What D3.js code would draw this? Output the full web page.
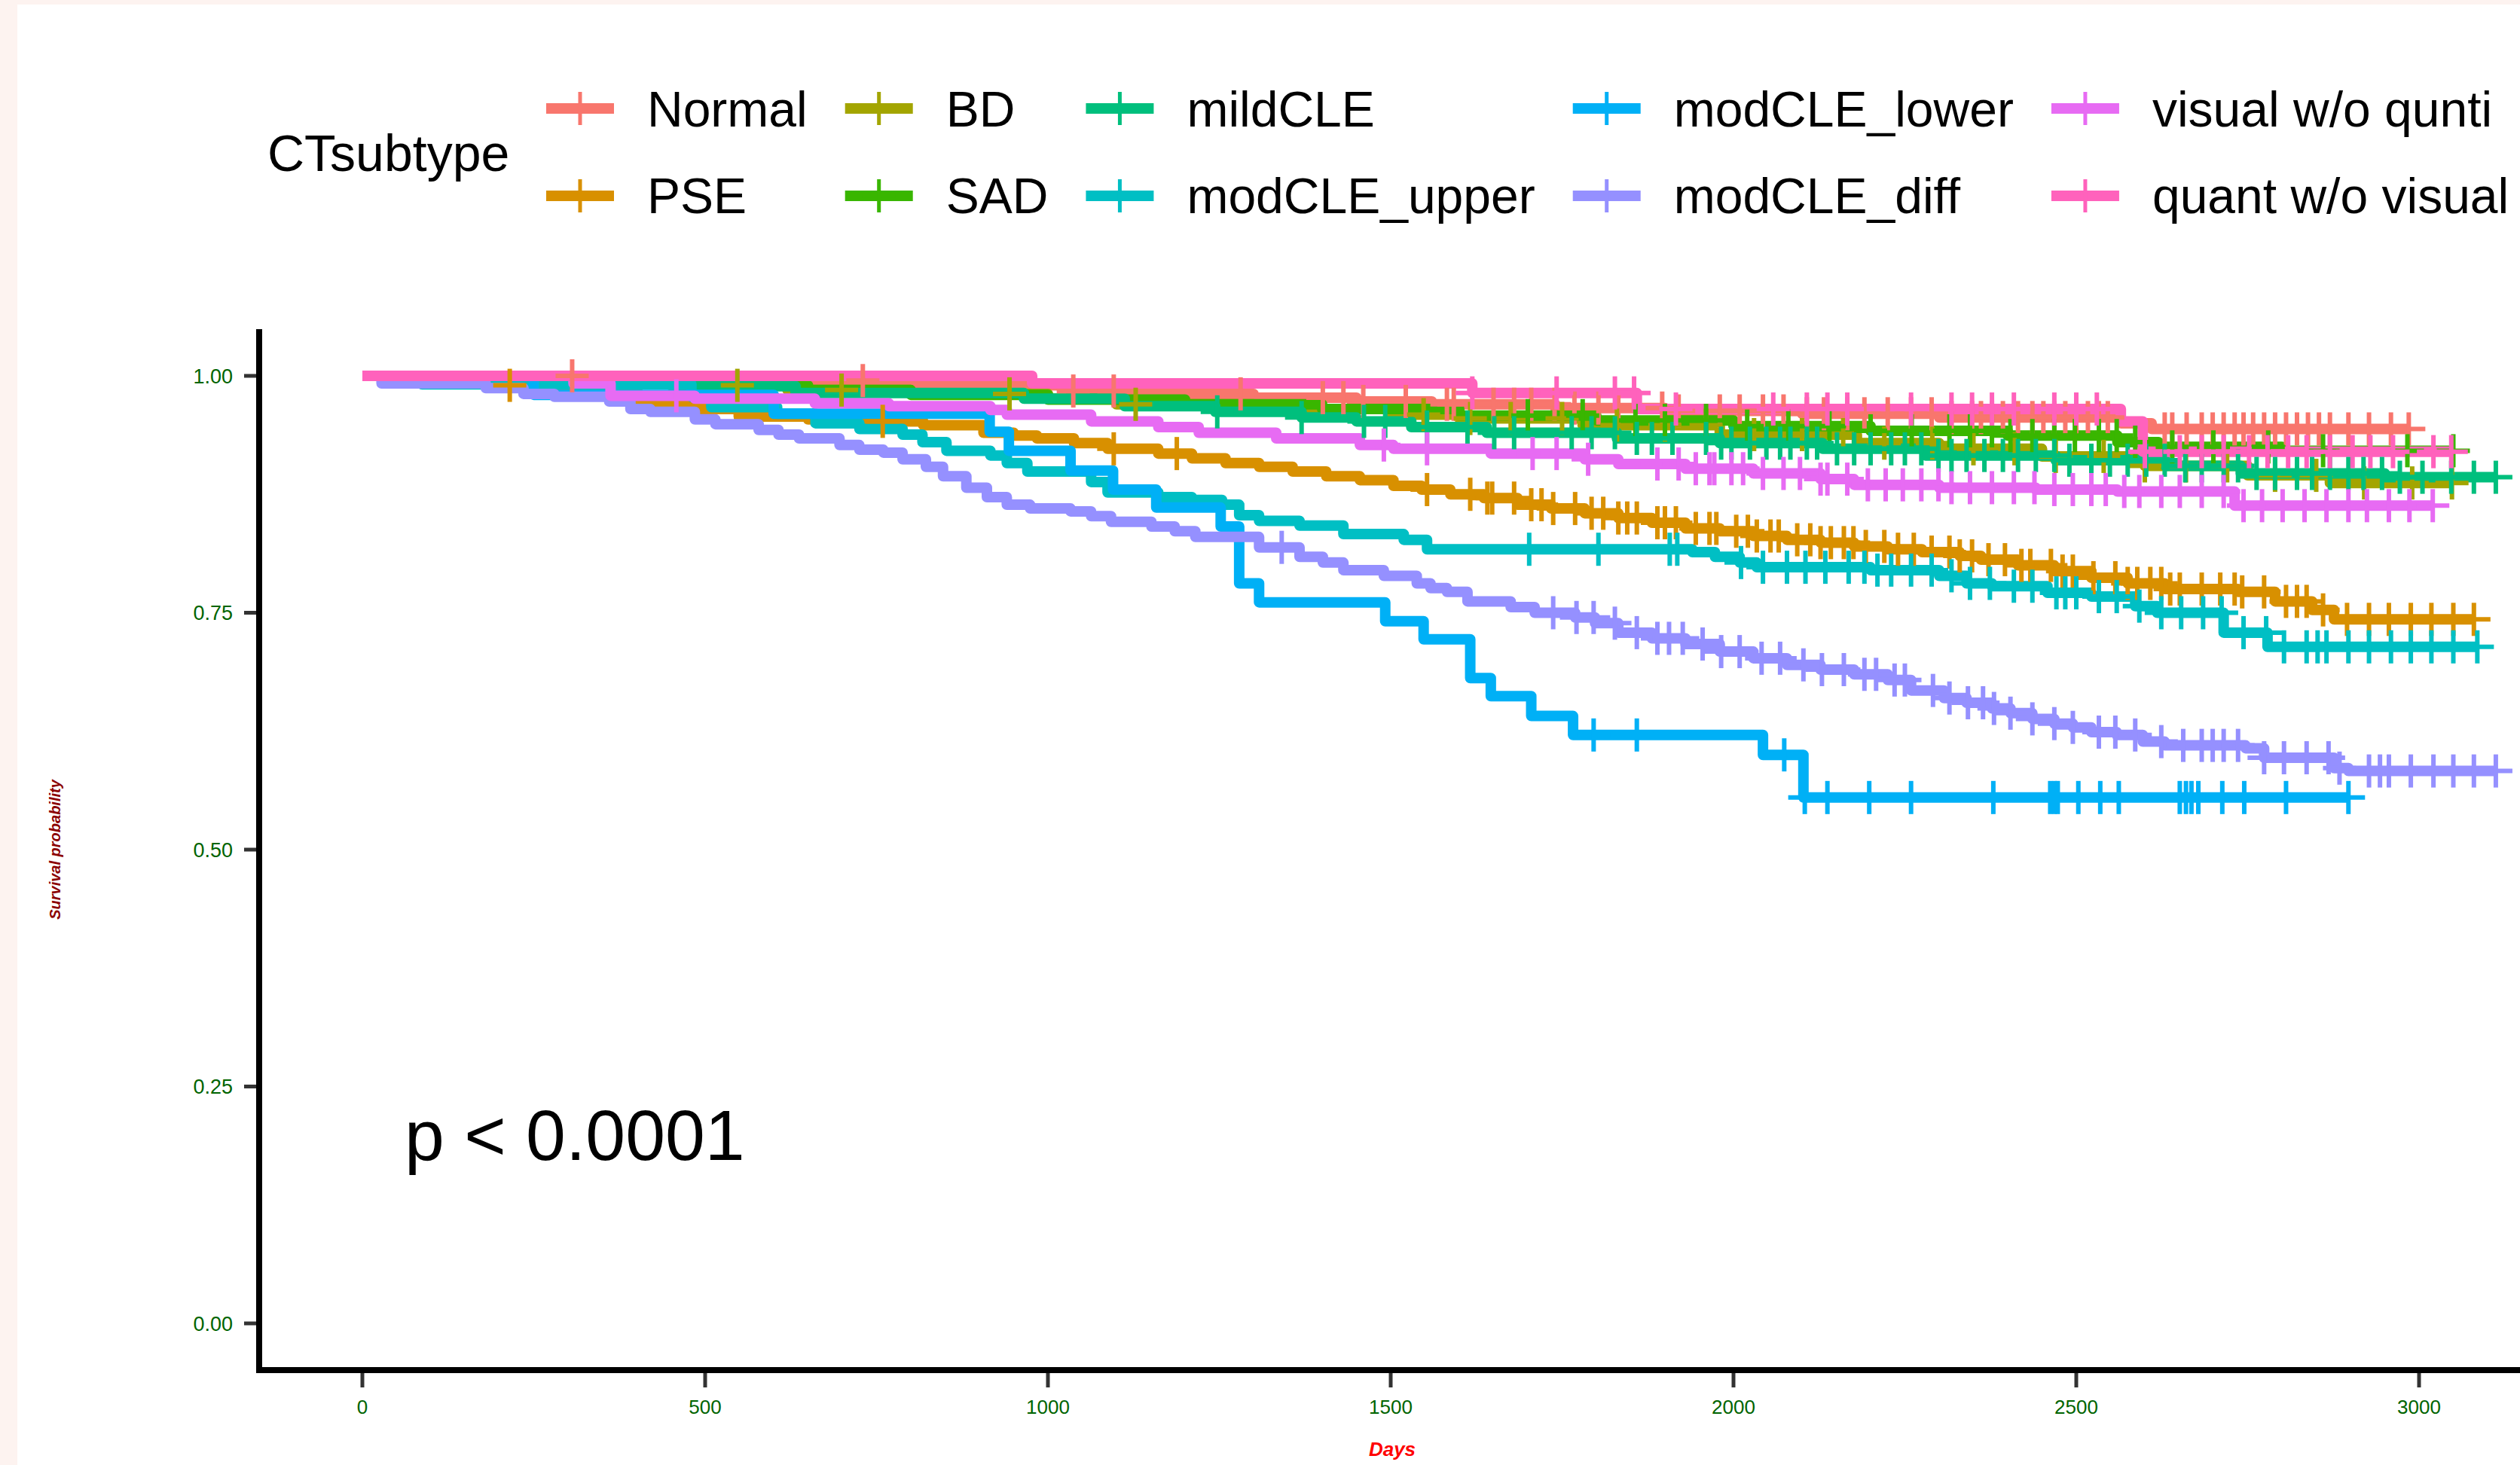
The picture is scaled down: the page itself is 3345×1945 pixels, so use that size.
<!DOCTYPE html>
<html>
<head>
<meta charset="utf-8">
<script src="https://cdn.jsdelivr.net/npm/d3@7"></script>
<style>
  html, body { margin: 0; padding: 0; background: #fff; }
  svg { display: block; }
  text { font-family: "Liberation Sans", Arial, Helvetica, sans-serif; }
</style>
</head>
<body>
<svg id="chart" width="3345" height="1945"></svg>
<script>
// ---- data ----
var groups = ["Normal", "PSE", "BD", "SAD", "mildCLE", "modCLE_upper",
  "modCLE_lower", "modCLE_diff", "visual w/o qunti", "quant w/o visual"];
var colors = ["#F8766D", "#D89000", "#A3A500", "#39B600", "#00BF7D",
  "#00BFC4", "#00B0F6", "#9590FF", "#E76BF3", "#FF62BC"];

var xTicks = [0, 500, 1000, 1500, 2000, 2500, 3000];
var yTicks = [0, 0.25, 0.5, 0.75, 1];

// [days, survival] steps, last pair = end of follow-up
var stepsNormal = [[0,1],[420,0.995],[800,0.99],[1033,0.984],[1160,0.981],[1300,0.977],[1450,0.973],[1560,0.970],
  [1740,0.966],[1900,0.963],[2100,0.960],[2300,0.956],[2565,0.950],[2610,0.944],[2985,0.944]];
var stepsPSE = [[0,1],[60,0.995],[180,0.99],[300,0.985],[401,0.973],[485,0.965],[549,0.957],[650,0.954],[725,0.952],
  [818,0.948],[906,0.940],[950,0.937],[984,0.934],[1038,0.929],[1087,0.923],[1161,0.918],[1210,0.913],[1259,0.908],
  [1308,0.904],[1357,0.899],[1406,0.894],[1455,0.890],[1504,0.884],[1545,0.880],[1587,0.875],[1636,0.871],[1685,0.864],
  [1734,0.860],[1783,0.855],[1832,0.850],[1881,0.845],[1930,0.839],[1980,0.836],[2029,0.831],[2078,0.827],[2127,0.824],
  [2176,0.820],[2225,0.817],[2275,0.814],[2330,0.810],[2361,0.806],[2415,0.800],[2468,0.794],[2522,0.787],[2575,0.781],
  [2629,0.775],[2736,0.772],[2790,0.762],[2844,0.753],[2876,0.743],[3080,0.743]];
var stepsBD = [[0,1],[250,0.995],[450,0.99],[620,0.985],[800,0.981],[1000,0.976],[1100,0.970],[1300,0.965],[1500,0.959],
  [1600,0.955],[1780,0.948],[1980,0.938],[2180,0.929],[2300,0.923],[2450,0.915],[2600,0.905],[2750,0.895],[2870,0.887],
  [3048,0.887]];
var stepsSAD = [[0,1],[300,0.995],[500,0.99],[650,0.985],[800,0.98],[1000,0.975],[1200,0.97],[1400,0.965],[1600,0.958],
  [1800,0.953],[2000,0.947],[2200,0.942],[2400,0.937],[2560,0.930],[2620,0.925],[2800,0.921],[3050,0.921]];
var stepsMild = [[0,1],[200,0.996],[372,0.992],[490,0.989],[632,0.982],[965,0.976],[1112,0.968],[1244,0.962],[1370,0.956],
  [1450,0.952],[1530,0.946],[1640,0.940],[1830,0.934],[1980,0.929],[2130,0.923],[2280,0.916],[2470,0.911],[2630,0.905],
  [2740,0.897],[2950,0.893],[3112,0.893]];
var stepsUpper = [[0,1],[87,0.991],[480,0.978],[509,0.967],[605,0.960],[661,0.950],[725,0.944],[788,0.938],[817,0.930],
  [852,0.921],[916,0.916],[940,0.908],[970,0.899],[1063,0.888],[1087,0.877],[1161,0.872],[1210,0.869],[1254,0.864],
  [1279,0.853],[1308,0.847],[1367,0.842],[1431,0.833],[1519,0.827],[1553,0.817],[1940,0.814],[1973,0.809],[2009,0.803],
  [2034,0.798],[2200,0.795],[2300,0.789],[2340,0.781],[2377,0.778],[2458,0.771],[2522,0.767],[2586,0.757],[2618,0.750],
  [2715,0.729],[2779,0.714],[3085,0.714]];
var stepsLower = [[0,1],[250,0.98],[600,0.96],[915,0.941],[943,0.921],[1033,0.900],[1095,0.880],[1158,0.861],[1252,0.841],
  [1279,0.781],[1308,0.761],[1492,0.741],[1548,0.722],[1616,0.681],[1646,0.662],[1705,0.641],[1766,0.621],[2043,0.600],
  [2102,0.555],[2897,0.555]];
var stepsDiff = [[0,1],[28,0.992],[180,0.987],[235,0.981],[280,0.978],[360,0.973],[391,0.965],[420,0.962],[485,0.954],
  [515,0.949],[578,0.943],[607,0.938],[637,0.934],[696,0.927],[725,0.922],[760,0.919],[788,0.912],[822,0.904],[847,0.894],
  [881,0.882],[911,0.872],[940,0.864],[974,0.860],[1033,0.857],[1063,0.852],[1092,0.846],[1151,0.841],[1185,0.836],
  [1215,0.830],[1308,0.819],[1367,0.809],[1401,0.803],[1431,0.795],[1490,0.789],[1538,0.781],[1558,0.776],[1582,0.772],
  [1612,0.762],[1675,0.756],[1710,0.750],[1769,0.745],[1798,0.739],[1832,0.729],[1881,0.723],[1930,0.717],[1980,0.709],
  [2029,0.702],[2078,0.695],[2127,0.690],[2176,0.685],[2225,0.679],[2259,0.668],[2307,0.660],[2340,0.655],[2377,0.649],
  [2404,0.644],[2436,0.638],[2468,0.633],[2495,0.629],[2522,0.624],[2559,0.621],[2597,0.614],[2629,0.610],[2747,0.607],
  [2774,0.597],[2876,0.586],[2897,0.583],[3112,0.583]];
var stepsVisual = [[0,1],[308,0.992],[362,0.979],[485,0.976],[660,0.971],[768,0.968],[916,0.964],[940,0.959],[1063,0.952],
  [1161,0.946],[1220,0.940],[1333,0.934],[1455,0.927],[1504,0.923],[1646,0.918],[1783,0.912],[1832,0.907],[1930,0.902],
  [2029,0.897],[2127,0.891],[2176,0.885],[2300,0.882],[2441,0.880],[2560,0.878],[2731,0.863],[3020,0.863]];
var stepsQuant = [[0,1],[977,0.992],[1619,0.982],[1859,0.965],[2565,0.952],[2597,0.920],[3047,0.920]];

// censoring times (days)
var censNormal = [306,730,1037,1096,1281,1401,1431,1460,1522,1582,1592,1650,1680,1705,1739,1768,1803,1832,1896,1920,1980,
  2009,2043,2073,2107,2132,2166,2191,2225,2259,2289,2318,2348,2361,2377,2393,2415,2436,2452,2468,2484,2500,2517,2533,2546,
  2629,2640,2661,2683,2699,2715,2731,2744,2758,2774,2790,2806,2822,2838,2854,2870,2897,2927,2959,2985];
var censPSE = [215,759,1096,1188,1553,1616,1641,1648,1680,1705,1720,1737,1769,1793,1810,1832,1845,1859,1889,1900,1916,1945,
  1965,1975,2004,2021,2034,2054,2066,2093,2112,2127,2142,2161,2175,2193,2220,2240,2263,2289,2315,2330,2348,2372,2396,2420,
  2433,2463,2480,2495,2525,2557,2575,2589,2608,2624,2637,2651,2683,2710,2731,2742,2774,2806,2822,2836,2860,2895,2927,2956,
  2988,3018,3050,3080];
var censBD = [547,699,944,1128,1548,1616,1675,1750,1830,1900,1960,2030,2100,2160,2220,2290,2350,2410,2470,2540,2600,2660,
  2720,2790,2850,2920,2990,3048];
var censSAD = [1700,1780,1857,1900,1960,2020,2080,2140,2200,2260,2315,2345,2377,2404,2436,2468,2498,2533,2559,2586,2640,
  2700,2780,2860,2983,3050];
var censMild = [1247,1370,1461,1492,1553,1612,1651,1680,1764,1793,1827,1859,1881,1911,1960,1982,1997,2024,2048,2068,2083,
  2107,2122,2151,2176,2200,2230,2250,2274,2299,2318,2340,2366,2393,2415,2441,2468,2490,2522,2549,2575,2602,2629,2659,2683,
  2715,2736,2763,2790,2822,2844,2870,2897,2919,2946,2972,3005,3047,3080,3112];
var censUpper = [1702,1803,1907,1918,2011,2043,2078,2105,2134,2168,2191,2210,2230,2259,2289,2318,2345,2374,2409,2436,2471,
  2484,2500,2533,2559,2592,2624,2653,2685,2712,2744,2777,2803,2836,2852,2865,2897,2927,2959,2988,3018,3050,3085];
var censLower = [1796,1859,2074,2104,2137,2198,2259,2379,2462,2468,2473,2503,2535,2562,2651,2660,2668,2678,2713,2745,2806,
  2897];
var censDiff = [1341,1737,1771,1796,1827,1859,1889,1906,1926,1955,1982,2009,2041,2068,2102,2129,2161,2191,2208,2235,2250,
  2291,2315,2342,2364,2380,2404,2436,2468,2495,2533,2557,2586,2624,2656,2683,2699,2715,2736,2774,2803,2836,2868,2884,2927,
  2943,2956,2988,3021,3050,3080,3112];
var censVisual = [458,1490,1553,1707,1742,1788,1889,1920,1945,1965,1972,1997,2014,2043,2073,2097,2127,2137,2166,2196,2222,
  2247,2274,2299,2318,2345,2377,2409,2439,2468,2495,2522,2543,2570,2592,2624,2651,2683,2715,2744,2771,2801,2833,2865,2897,
  2924,2956,2986,3020];
var censQuant = [1619,1742,1827,1855,1916,2058,2107,2137,2166,2259,2318,2348,2377,2409,2468,2500,2530,2600,2651,2683,2715,
  2752,2779,2809,2836,2870,2903,2929,2962,3021,3047];

var allSteps = [stepsNormal, stepsPSE, stepsBD, stepsSAD, stepsMild, stepsUpper, stepsLower, stepsDiff, stepsVisual, stepsQuant];
var allCens = [censNormal, censPSE, censBD, censSAD, censMild, censUpper, censLower, censDiff, censVisual, censQuant];

var pLabel = "p < 0.0001";

// ---- layout ----
var W = 3345, H = 1945;
var panel = { left: 344, right: 3352, top: 437, bottom: 1819 };
var lineW = 14;
var plusHalf = 22;
var plusW = 6;

var svg = d3.select("#chart");

svg.append("rect").attr("width", W).attr("height", H).attr("fill", "#fdf3f0");
svg.append("rect").attr("x", 23).attr("y", 6).attr("width", W).attr("height", H).attr("fill", "#ffffff");

var x = d3.scaleLinear().domain([0, 3000]).range([481, 3211]);
var y = d3.scaleLinear().domain([0, 1]).range([1757, 499]);

var line = d3.line()
  .x(function(d) { return x(d[0]); })
  .y(function(d) { return y(d[1]); })
  .curve(d3.curveStepAfter);

// survival value at time t (step function)
var bis = d3.bisector(function(d) { return d[0]; }).right;
function survAt(steps, t) {
  var i = bis(steps, t) - 1;
  return steps[Math.max(0, i)][1];
}

function plus(sel, cx, cy, col, half, w) {
  sel.append("line").attr("x1", cx - half).attr("x2", cx + half).attr("y1", cy).attr("y2", cy)
    .attr("stroke", col).attr("stroke-width", w);
  sel.append("line").attr("x1", cx).attr("x2", cx).attr("y1", cy - half).attr("y2", cy + half)
    .attr("stroke", col).attr("stroke-width", w);
}

// curves
var curves = svg.append("g");
curves.selectAll("path").data(allSteps).enter().append("path")
  .attr("d", line)
  .attr("fill", "none")
  .attr("stroke", function(d, i) { return colors[i]; })
  .attr("stroke-width", lineW)
  .attr("stroke-linejoin", "round");

// censor marks on top of all curves
var marks = svg.append("g");
allCens.forEach(function(cens, i) {
  var g = marks.append("g");
  cens.forEach(function(t) {
    plus(g, x(t), y(survAt(allSteps[i], t)), colors[i], plusHalf, plusW);
  });
});

// axes
var axisG = svg.append("g");
axisG.selectAll(".ytick").data(yTicks).enter().append("line")
  .attr("x1", 324).attr("x2", panel.left)
  .attr("y1", function(d) { return y(d); }).attr("y2", function(d) { return y(d); })
  .attr("stroke", "#333333").attr("stroke-width", 5);
axisG.selectAll(".ylab").data(yTicks).enter().append("text")
  .attr("x", 309).attr("y", function(d) { return y(d); })
  .attr("dy", "0.36em")
  .attr("text-anchor", "end")
  .attr("font-size", 27)
  .attr("fill", "#006400")
  .text(d3.format(".2f"));

axisG.selectAll(".xtick").data(xTicks).enter().append("line")
  .attr("x1", function(d) { return x(d); }).attr("x2", function(d) { return x(d); })
  .attr("y1", panel.bottom).attr("y2", 1842)
  .attr("stroke", "#333333").attr("stroke-width", 5);
axisG.selectAll(".xlab").data(xTicks).enter().append("text")
  .attr("x", function(d) { return x(d); }).attr("y", 1877)
  .attr("text-anchor", "middle")
  .attr("font-size", 26)
  .attr("fill", "#006400")
  .text(function(d) { return d; });

axisG.append("line").attr("x1", panel.left).attr("x2", panel.left)
  .attr("y1", panel.top).attr("y2", panel.bottom + 4)
  .attr("stroke", "#000").attr("stroke-width", 8);
axisG.append("line").attr("x1", panel.left - 4).attr("x2", panel.right)
  .attr("y1", panel.bottom).attr("y2", panel.bottom)
  .attr("stroke", "#000").attr("stroke-width", 8);

// axis titles
svg.append("text")
  .attr("transform", "translate(80," + ((panel.top + panel.bottom) / 2) + ") rotate(-90)")
  .attr("text-anchor", "middle")
  .attr("font-size", 20).attr("font-weight", "bold").attr("font-style", "italic")
  .attr("fill", "#8B0000")
  .text("Survival probability");
svg.append("text")
  .attr("x", (panel.left + panel.right) / 2).attr("y", 1933)
  .attr("text-anchor", "middle")
  .attr("font-size", 26).attr("font-weight", "bold").attr("font-style", "italic")
  .attr("fill", "#FF0000")
  .text("Days");

// p value
svg.append("text")
  .attr("x", 537).attr("y", 1540)
  .attr("font-size", 95)
  .attr("fill", "#000")
  .text(pLabel);

// legend
var leg = svg.append("g");
var legFont = 66;
var rowY = [144, 260];
var rowBase = [168, 283];
leg.append("text").attr("x", 355).attr("y", 227).attr("font-size", 68).attr("fill", "#000").text("CTsubtype");

var colX = 725;
for (var c = 0; c < 5; c++) {
  var maxW = 0;
  for (var r = 0; r < 2; r++) {
    var k = c * 2 + r;
    leg.append("line").attr("x1", colX).attr("x2", colX + 90)
      .attr("y1", rowY[r]).attr("y2", rowY[r])
      .attr("stroke", colors[k]).attr("stroke-width", lineW);
    plus(leg, colX + 45, rowY[r], colors[k], plusHalf, 5);
    var t = leg.append("text").attr("x", colX + 134).attr("y", rowBase[r])
      .attr("font-size", legFont).attr("fill", "#000").text(groups[k]);
    maxW = Math.max(maxW, t.node().getComputedTextLength());
  }
  colX = colX + 134 + maxW + 50;
}
</script>
</body>
</html>
